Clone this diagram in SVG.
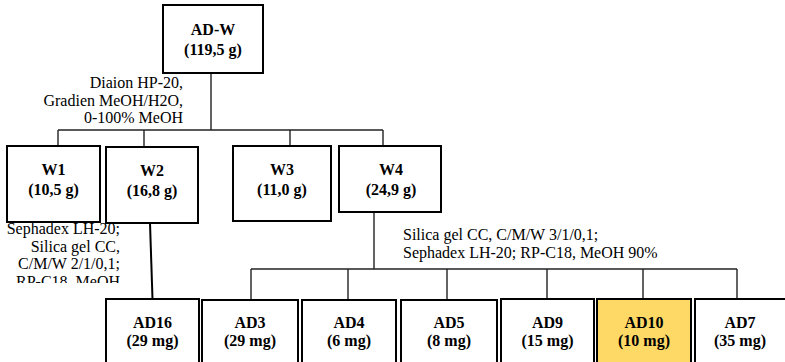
<svg xmlns="http://www.w3.org/2000/svg" width="785" height="362" viewBox="0 0 785 362">
<style>
.box{fill:#fff;stroke:#000;stroke-width:2}
.hl{fill:#FFD966;stroke:#000;stroke-width:2}
.lbl{font-family:"Liberation Serif","Times New Roman",serif;font-size:16px;font-weight:bold;text-anchor:middle;fill:#000}
.note{font-family:"Liberation Serif","Times New Roman",serif;font-size:16px;fill:#000}
.con{stroke:#222;stroke-width:1.4;fill:none}
</style>
<defs>
<clipPath id="clipL"><rect x="0" y="220" width="140" height="63"/></clipPath>
</defs>
<rect width="785" height="362" fill="#fff"/>
<g id="connectors">
<line class="con" x1="211" y1="73" x2="211" y2="130"/>
<line class="con" x1="58" y1="130" x2="383" y2="130"/>
<line class="con" x1="58" y1="130" x2="58" y2="146"/>
<line class="con" x1="144" y1="130" x2="144" y2="147"/>
<line class="con" x1="290" y1="130" x2="290" y2="146"/>
<line class="con" x1="383" y1="130" x2="383" y2="146"/>
<line x1="150" y1="223" x2="152.5" y2="299" stroke="#000" stroke-width="2"/>
<line class="con" x1="374" y1="212" x2="374" y2="269"/>
<line class="con" x1="251" y1="269" x2="737" y2="269"/>
<line class="con" x1="251" y1="269" x2="251" y2="300"/>
<line class="con" x1="348" y1="269" x2="348" y2="300"/>
<line class="con" x1="447" y1="269" x2="447" y2="300"/>
<line class="con" x1="547" y1="269" x2="547" y2="299"/>
<line class="con" x1="643" y1="269" x2="643" y2="299"/>
<line class="con" x1="737" y1="269" x2="737" y2="299"/>
</g>
<g id="notes">
<text class="note" text-anchor="end" x="183" y="88">Diaion HP-20,</text>
<text class="note" text-anchor="end" x="183" y="105.5">Gradien MeOH/H2O,</text>
<text class="note" text-anchor="end" x="183" y="123">0-100% MeOH</text>
<g clip-path="url(#clipL)">
<text class="note" text-anchor="end" x="120" y="234">Sephadex LH-20;</text>
<text class="note" text-anchor="end" x="120" y="251.5">Silica gel CC,</text>
<text class="note" text-anchor="end" x="120" y="269">C/M/W 2/1/0,1;</text>
<text class="note" text-anchor="end" x="120" y="286.5">RP-C18, MeOH</text>
</g>
<text class="note" x="403" y="240">Silica gel CC, C/M/W 3/1/0,1;</text>
<text class="note" x="403" y="258">Sephadex LH-20; RP-C18, MeOH 90%</text>
</g>
<g id="ADW"><rect class="box" x="163" y="5" width="100" height="68"/><text class="lbl" x="213" y="35">AD-W</text><text class="lbl" x="213" y="55">(119,5 g)</text></g>
<g id="W1"><rect class="box" x="7" y="146" width="93" height="76"/><text class="lbl" x="53.5" y="175">W1</text><text class="lbl" x="53.5" y="195">(10,5 g)</text></g>
<g id="W2"><rect class="box" x="106" y="147" width="92" height="76"/><text class="lbl" x="152" y="176">W2</text><text class="lbl" x="152" y="196">(16,8 g)</text></g>
<g id="W3"><rect class="box" x="233" y="146" width="98" height="75"/><text class="lbl" x="282" y="175">W3</text><text class="lbl" x="282" y="195">(11,0 g)</text></g>
<g id="W4"><rect class="box" x="339" y="146" width="102" height="66"/><text class="lbl" x="391" y="175">W4</text><text class="lbl" x="391" y="195">(24,9 g)</text></g>
<g id="AD16"><rect class="box" x="106" y="299" width="93" height="75"/><text class="lbl" x="152.5" y="328">AD16</text><text class="lbl" x="152.5" y="346">(29 mg)</text></g>
<g id="AD3"><rect class="box" x="202" y="300" width="96" height="75"/><text class="lbl" x="250" y="328">AD3</text><text class="lbl" x="250" y="346">(29 mg)</text></g>
<g id="AD4"><rect class="box" x="302" y="300" width="94" height="75"/><text class="lbl" x="349" y="328">AD4</text><text class="lbl" x="349" y="346">(6 mg)</text></g>
<g id="AD5"><rect class="box" x="401" y="300" width="96" height="75"/><text class="lbl" x="449" y="328">AD5</text><text class="lbl" x="449" y="346">(8 mg)</text></g>
<g id="AD9"><rect class="box" x="501" y="299" width="93" height="75"/><text class="lbl" x="547.5" y="328">AD9</text><text class="lbl" x="547.5" y="346">(15 mg)</text></g>
<g id="AD10"><rect class="hl" x="597" y="299" width="94" height="75"/><text class="lbl" x="644" y="328">AD10</text><text class="lbl" x="644" y="346">(10 mg)</text></g>
<g id="AD7"><rect class="box" x="695" y="299" width="94" height="75"/><text class="lbl" x="740" y="328">AD7</text><text class="lbl" x="740" y="346">(35 mg)</text></g>
</svg>
